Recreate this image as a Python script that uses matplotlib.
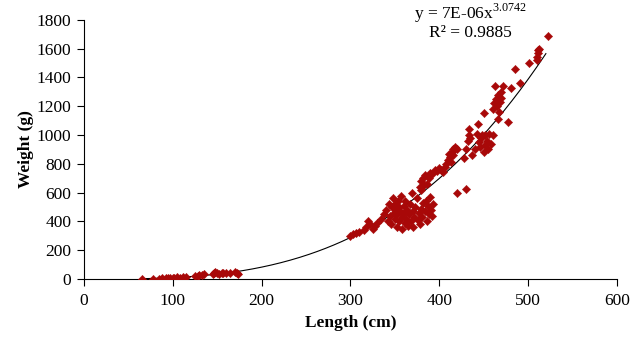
import matplotlib
matplotlib.use("Agg")
import matplotlib.pyplot as plt
import numpy as np

plt.rcParams['font.family'] = ['Liberation Serif', 'DejaVu Serif']
plt.rcParams['mathtext.fontset'] = 'custom'
plt.rcParams['mathtext.rm'] = 'Liberation Serif'

length = [65, 78, 85, 88, 92, 95, 97, 100, 102, 105, 108, 112, 115, 125, 128, 130, 133, 135,
          145, 147, 148, 150, 152, 155, 157, 160, 165, 170, 172, 173,
          300, 303, 306, 310, 315, 318, 320, 322, 325, 328, 330,
          335, 338, 340, 342, 343, 345, 346, 347, 348, 349, 350, 350, 351, 352, 353, 354, 355, 355,
          356, 357, 358, 358, 360, 360, 361, 362, 363, 364, 365, 366, 367, 368, 369, 370, 371, 372,
          373, 375, 376, 377, 378, 379, 380, 381, 382, 383, 384, 385, 386, 387, 388, 390, 391, 392, 393,
          378, 380, 382, 384, 386, 388, 390, 392, 395, 398, 400, 402, 404, 406, 408, 410, 411, 412,
          413, 414, 415, 416, 418, 420, 420, 430,
          428, 430, 432, 433, 434, 435, 437, 440, 442, 444, 445, 446, 447, 448, 450, 450, 451, 452,
          454, 455, 456, 458, 460, 460, 462, 463, 464, 465, 466, 467, 468, 469, 470, 466, 477, 472,
          481, 485, 491, 501, 510, 510, 511, 511, 512, 522]
weight = [2, 3, 4, 5, 6, 8, 7, 10, 9, 12, 11, 13, 14, 20, 22, 25, 28, 32,
          35, 45, 50, 40, 38, 42, 45, 40, 45, 48, 42, 35,
          300, 310, 320, 330, 340, 365, 400, 380, 350, 370, 390,
          420, 450, 480, 400, 520, 440, 380, 500, 560, 460, 420, 520, 480, 360, 450, 540, 400, 500,
          470, 580, 430, 350, 510, 460, 390, 540, 420, 480, 370, 450, 520, 400, 600, 470, 360, 430,
          500, 560, 410, 460, 380, 620, 490, 430, 530, 650, 470, 540, 400, 510, 450, 570, 480, 440, 520,
          640, 680, 700, 720, 660, 700, 740, 730, 760, 750, 770, 760, 745, 780, 800, 830, 870, 850,
          810, 880, 900, 860, 920, 900, 600, 625,
          840, 900, 960, 1000, 1040, 980, 860, 900, 1010, 1080, 950, 920, 980, 1000, 880, 1150, 930, 1000,
          960, 900, 1010, 940, 1000, 1180, 1220, 1340, 1250, 1200, 1280, 1160, 1230, 1260, 1300, 1110, 1090, 1340,
          1330, 1460, 1360, 1500, 1520, 1545, 1570, 1590, 1600, 1690]

coef_a = 7e-6
coef_b = 3.0742
x_ticks = [0, 100, 200, 300, 400, 500, 600]
y_ticks = [0, 200, 400, 600, 800, 1000, 1200, 1400, 1600, 1800]

fig = plt.figure(figsize=(6.4, 3.48), dpi=100)
ax = fig.add_axes([0.131, 0.198, 0.833, 0.745])

ax.scatter(length, weight, marker='D', s=18, color='#A80808', edgecolors='#A80808', linewidths=0.3, zorder=3)

xf = np.linspace(min(length), max(length) - 2, 300)
ax.plot(xf, coef_a * xf ** coef_b, color='black', lw=0.8, zorder=2)

ax.set_xlim(0, 600)
ax.set_ylim(0, 1800)
ax.set_xticks(x_ticks)
ax.set_yticks(y_ticks)
ax.tick_params(axis='both', labelsize=12.5, direction='out', length=5, width=0.8)
ax.tick_params(axis='x', pad=5)
ax.tick_params(axis='y', pad=4)
for s in ['top', 'right']:
    ax.spines[s].set_visible(False)
for s in ['left', 'bottom']:
    ax.spines[s].set_linewidth(0.8)

ax.set_xlabel('Length (cm)', fontsize=12.5, fontweight='bold', labelpad=4)
ax.set_ylabel('Weight (g)', fontsize=12.5, fontweight='bold', labelpad=2)

fig.text(0.735, 0.962, r'y = 7E-06x$^{\mathrm{3.0742}}$', fontsize=12.5, ha='center', va='center')
fig.text(0.735, 0.905, 'R² = 0.9885', fontsize=12.5, ha='center', va='center')

fig.savefig('out.png', dpi=100)
